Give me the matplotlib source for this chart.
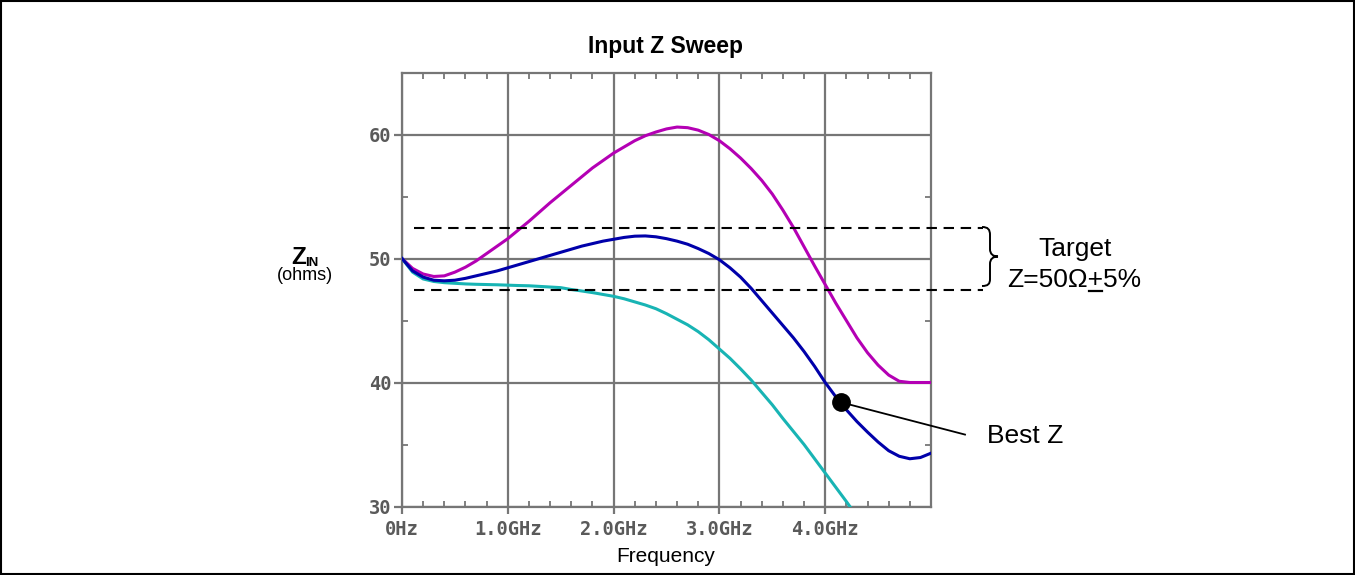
import matplotlib
matplotlib.use("Agg")
import matplotlib.pyplot as plt
from matplotlib.path import Path
from matplotlib.patches import PathPatch, Rectangle
from matplotlib.ticker import MultipleLocator, FixedLocator

# ---------------- data ----------------
freq = [0.0, 0.1, 0.2, 0.3, 0.4, 0.5, 0.6, 0.7, 0.8, 0.9,
        1.0, 1.1, 1.2, 1.3, 1.4, 1.5, 1.6, 1.7, 1.8, 1.9,
        2.0, 2.1, 2.2, 2.3, 2.4, 2.5, 2.6, 2.7, 2.8, 2.9,
        3.0, 3.1, 3.2, 3.3, 3.4, 3.5, 3.6, 3.7, 3.8, 3.9,
        4.0, 4.1, 4.2, 4.3, 4.4, 4.5, 4.6, 4.7, 4.8, 4.9, 5.0]

z_mag = [50, 49.2, 48.75, 48.55, 48.6, 48.9, 49.3, 49.8, 50.4, 51.0,
         51.6, 52.3, 53.0, 53.75, 54.5, 55.2, 55.9, 56.6, 57.3, 57.9,
         58.5, 59.0, 59.5, 59.9, 60.2, 60.45, 60.6, 60.55, 60.35, 60.0,
         59.5, 58.85, 58.1, 57.25, 56.3, 55.2, 53.9, 52.5, 50.95, 49.4,
         47.9, 46.4, 45.0, 43.6, 42.4, 41.4, 40.6, 40.1, 40.0, 40.0, 40.0]

z_blue = [50, 49.0, 48.5, 48.25, 48.2, 48.25, 48.4, 48.6, 48.8, 49.0,
          49.25, 49.5, 49.75, 50.0, 50.25, 50.5, 50.75, 51.0, 51.2, 51.4,
          51.55, 51.7, 51.8, 51.82, 51.75, 51.6, 51.4, 51.15, 50.8, 50.4,
          49.9, 49.25, 48.5, 47.6, 46.6, 45.6, 44.6, 43.6, 42.5, 41.3,
          40.0, 38.85, 37.8, 36.85, 36.0, 35.2, 34.5, 34.05, 33.85, 33.95, 34.3]

z_cyan = [50, 48.9, 48.35, 48.15, 48.05, 48.0, 47.95, 47.92, 47.9, 47.88,
          47.85, 47.82, 47.8, 47.75, 47.7, 47.65, 47.5, 47.38, 47.25, 47.1,
          46.95, 46.75, 46.5, 46.25, 45.95, 45.55, 45.1, 44.65, 44.1, 43.45,
          42.7, 41.95, 41.1, 40.2, 39.2, 38.2, 37.1, 36.05, 35.0, 33.85,
          32.7, 31.55, 30.4, 29.2]

target_z = 50
target_tol = 0.05
best_point = (4.15, 38.4)

x_ticks = [0, 1, 2, 3, 4]
x_ticklabels = ["0Hz", "1.0GHz", "2.0GHz", "3.0GHz", "4.0GHz"]
y_ticks = [30, 40, 50, 60]
y_ticklabels = ["30", "40", "50", "60"]

# ---------------- figure ----------------
W, H = 1355, 575
fig = plt.figure(figsize=(W / 100, H / 100), dpi=100)


def fx(px):
    return px / W


def fy(py):
    return 1 - py / H


ax = fig.add_axes([fx(402), fy(506.5), (931 - 402) / W, (506.5 - 72.5) / H])
ax.set_xlim(0, 5)
ax.set_ylim(30, 65)

grey = "#767676"
for s in ax.spines.values():
    s.set_color(grey)
    s.set_linewidth(1.6)

ax.xaxis.set_major_locator(FixedLocator(x_ticks))
ax.set_xticklabels(x_ticklabels)
ax.xaxis.set_minor_locator(MultipleLocator(0.2))
ax.yaxis.set_major_locator(FixedLocator(y_ticks))
ax.set_yticklabels(y_ticklabels)
ax.yaxis.set_minor_locator(FixedLocator([35, 45, 55]))

for lab in ax.get_xticklabels() + ax.get_yticklabels():
    lab.set_fontfamily("DejaVu Sans Mono")
    lab.set_fontweight("bold")
    lab.set_fontsize(13.5)
    lab.set_color("#5a5a5a")

ax.tick_params(axis="x", which="major", direction="out", length=5, width=1.6,
               color=grey, pad=5, top=False)
ax.tick_params(axis="y", which="major", direction="out", length=5.5, width=1.6,
               color=grey, pad=2, right=False)
ax.tick_params(axis="x", which="minor", direction="in", length=4, width=1.3,
               color=grey, top=True, bottom=True)
ax.tick_params(axis="y", which="minor", direction="in", length=4, width=1.3,
               color=grey, left=True, right=True)

ax.grid(True, which="major", color=grey, linewidth=1.6)
ax.set_axisbelow(True)

lw = 2.2
ax.plot(freq, z_mag, color="#b400b4", lw=lw, zorder=3)
ax.plot(freq, z_blue, color="#0000aa", lw=lw, zorder=4)
ax.plot(freq[:len(z_cyan)], z_cyan, color="#18b4b4", lw=lw, zorder=3)

# tolerance lines
hi = target_z * (1 + target_tol)
lo = target_z * (1 - target_tol)
x_end = (983 - 402) / 105.8
for yv in (hi, lo):
    ax.plot([0.11, x_end], [yv, yv], color="black", lw=1.5, ls=(0, (5, 3.2)),
            clip_on=False, zorder=5)

# best Z
ax.plot([best_point[0], (965 - 402) / 105.8], [best_point[1], 35.8], color="black",
        lw=1.3, clip_on=False, zorder=6)
ax.plot([best_point[0]], [best_point[1]], "o", color="black", ms=12.5, zorder=7)

# brace in pixel coords
pts = [(982, 227), (988, 227), (990, 229.5), (990, 235), (990, 249),
       (990, 254), (993, 256.5), (998, 256.5), (993, 256.5), (990, 259), (990, 264),
       (990, 279), (990, 284), (988, 286), (982, 286)]
codes = [Path.MOVETO, Path.CURVE4, Path.CURVE4, Path.CURVE4, Path.LINETO,
         Path.CURVE4, Path.CURVE4, Path.CURVE4, Path.CURVE4, Path.CURVE4, Path.CURVE4,
         Path.LINETO, Path.CURVE4, Path.CURVE4, Path.CURVE4]
path = Path([(fx(x), fy(y)) for x, y in pts], codes)
fig.patches.append(PathPatch(path, transform=fig.transFigure, fill=False,
                             lw=1.4, ec="black"))

sans = "Liberation Sans"
fig.text(fx(666), fy(47), "Input Z Sweep", ha="center", va="center",
         family=sans, weight="bold", size=16.5)
fig.text(fx(666), fy(557), "Frequency", ha="center", va="center",
         family=sans, size=15)
fig.text(fx(1075), fy(249), "Target", ha="center", va="center", family=sans, size=19)
t2 = fig.text(fx(1074), fy(280), "Z=50\u03a9+5%", ha="center", va="center",
              family=sans, size=19)
fig.text(fx(1025), fy(436), "Best Z", ha="center", va="center", family=sans, size=19)

# underline under "+"
fig.canvas.draw()
r = fig.canvas.get_renderer()
bb = t2.get_window_extent(r)
tmp = fig.text(0, 0, "Z=50\u03a9", family=sans, size=19)
wpre = tmp.get_window_extent(r).width
tmp2 = fig.text(0, 0, "Z=50\u03a9+", family=sans, size=19)
wplus = tmp2.get_window_extent(r).width
tmp.remove()
tmp2.remove()
ux0 = bb.x0 + wpre + 1
ux1 = bb.x0 + wplus - 1
uy = bb.y0 + 1
fig.add_artist(plt.Line2D([ux0 / W, ux1 / W], [uy / H, uy / H], color="black", lw=1.6,
                          transform=fig.transFigure))

# Z_IN label
fig.text(fx(291), fy(258), "Z", ha="left", va="center", family=sans, weight="bold",
         size=17.5)
fig.text(fx(305), fy(263), "IN", ha="left", va="center", family=sans, weight="bold",
         size=9.5)
fig.text(fx(305), fy(276), "(ohms)", ha="center", va="center", family=sans, size=13)

# outer border
fig.patches.append(Rectangle((fx(0.75), fy(574.25)), (W - 1.5) / W, (H - 1.5) / H,
                             transform=fig.transFigure, fill=False, lw=1.5,
                             ec="black"))

fig.savefig("out.png", dpi=100)
